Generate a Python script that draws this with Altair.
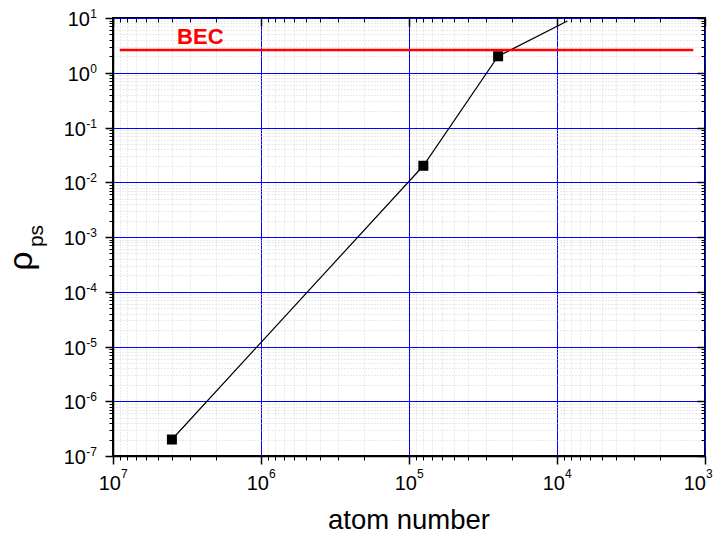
import altair as alt
import pandas as pd

FONT = "Liberation Sans"

# ---- data ----
atoms = [4.0e6, 8.0e4, 2.5e4, 8.5e3]
rho = [2.0e-7, 2.0e-2, 2.0, 8.8]
marker_atoms = [4.0e6, 8.0e4, 2.5e4]
marker_rho = [2.0e-7, 2.0e-2, 2.0]
bec_level = [2.6]
bec_start = [9.0e6]
bec_end = [1.2e3]
bec_label = ["BEC"]
bec_label_x = [2.57e6]
bec_label_y = [3.35]
x_exps = ["7", "6", "5", "4", "3"]
y_exps = ["1", "0", "-1", "-2", "-3", "-4", "-5", "-6", "-7"]
x_title = "atom number"
y_title_main = "ρ"
y_title_sub = "ps"

W, H = 592, 438

x_major = [10.0 ** e for e in range(3, 8)]
x_minor = [k * 10.0 ** e for e in range(3, 7) for k in range(2, 10)]
y_major = [10.0 ** e for e in range(-7, 2)]
y_minor = [k * 10.0 ** e for e in range(-7, 1) for k in range(2, 10)]

xscale = alt.Scale(type="log", domain=[1e3, 1e7], reverse=True, nice=False)
yscale = alt.Scale(type="log", domain=[1e-7, 10], nice=False)

BLUE = "#0000ff"
GRAY = "#d4d4d4"

def ax(orient, values, size, grid=None, offset=0, domain=False):
    kw = dict(orient=orient, values=values, labels=False, tickSize=size,
              tickColor="black", tickWidth=1.5 if size > 5 else 1,
              domain=domain, title=None, offset=offset)
    if domain:
        kw.update(domainColor="black", domainWidth=1.5)
    if grid == "major":
        kw.update(grid=True, gridColor=BLUE, gridWidth=1, gridOpacity=1)
    elif grid == "minor":
        kw.update(grid=True, gridColor=GRAY, gridWidth=1, gridDash=[1, 2], gridOpacity=1)
    else:
        kw.update(grid=False)
    return alt.Axis(**kw)

df_line = pd.DataFrame({"atoms": atoms, "rho": rho})
df_pts = pd.DataFrame({"atoms": marker_atoms, "rho": marker_rho})
df_bec = pd.DataFrame({"x1": bec_start, "x2": bec_end, "y": bec_level})
df_bect = pd.DataFrame({"x": bec_label_x, "y": bec_label_y, "t": bec_label})
x_lab = pd.DataFrame({"v": [10.0 ** int(e) for e in x_exps], "e": x_exps})
y_lab = pd.DataFrame({"v": [10.0 ** int(e) for e in y_exps], "e": y_exps})

line = alt.Chart(df_line).mark_line(color="black", strokeWidth=1.2).encode(
    x=alt.X("atoms:Q", scale=xscale, axis=ax("bottom", x_minor, 4, grid="minor")),
    y=alt.Y("rho:Q", scale=yscale, axis=ax("left", y_minor, 4, grid="minor")),
)

points = alt.Chart(df_pts).mark_square(size=100, color="black", opacity=1).encode(
    x=alt.X("atoms:Q", scale=xscale, axis=ax("bottom", x_major, 8, grid="major", domain=True)),
    y=alt.Y("rho:Q", scale=yscale, axis=ax("left", y_major, 8, grid="major", domain=True)),
)

bec = alt.Chart(df_bec).mark_rule(color="#ff0000", strokeWidth=2.5).encode(
    x=alt.X("x1:Q", scale=xscale, axis=ax("top", x_major, 8, offset=-8)),
    x2="x2:Q",
    y=alt.Y("y:Q", scale=yscale, axis=ax("right", y_major, 8, offset=-8)),
)

bec_text = alt.Chart(df_bect).mark_text(
    font=FONT, fontSize=22, fontWeight="bold", color="#ff0000",
    align="center", baseline="alphabetic",
).encode(
    x=alt.X("x:Q", scale=xscale, axis=ax("top", x_minor, 4, offset=-4)),
    y=alt.Y("y:Q", scale=yscale, axis=ax("right", y_minor, 4, offset=-4)),
    text="t:N",
)

def x_labels(flt, shift):
    base = alt.Chart(x_lab).transform_filter(flt)
    ten = base.mark_text(
        font=FONT, fontSize=20, align="right", baseline="alphabetic", dx=shift, color="black"
    ).encode(
        x=alt.X("v:Q", scale=xscale, axis=None),
        y=alt.value(H + 34),
        text=alt.value("10"),
    )
    ex = base.mark_text(
        font=FONT, fontSize=12, align="left", baseline="alphabetic", dx=shift, color="black"
    ).encode(
        x=alt.X("v:Q", scale=xscale, axis=None),
        y=alt.value(H + 22),
        text="e:N",
    )
    return [ten, ex]

xl_main = x_labels("datum.e != '3'", 8)
xl_edge = x_labels("datum.e == '3'", 1)

ylexp = alt.Chart(y_lab).mark_text(
    font=FONT, fontSize=12, align="right", baseline="alphabetic", dy=0, color="black"
).encode(
    y=alt.Y("v:Q", scale=yscale, axis=None),
    x=alt.value(-16),
    text="e:N",
)
yl10 = alt.Chart(y_lab).transform_calculate(
    xp="-16 - (indexof(datum.e, '-') >= 0 ? 11 : 7)"
).mark_text(
    font=FONT, fontSize=20, align="right", baseline="alphabetic", dy=8, color="black"
).encode(
    y=alt.Y("v:Q", scale=yscale, axis=None),
    x=alt.X("xp:Q", scale=None, axis=None),
    text=alt.value("10"),
)

rho_t = alt.Chart(pd.DataFrame({"t": [y_title_main]})).mark_text(
    font=FONT, fontSize=34, angle=270, align="center", baseline="alphabetic", color="black"
).encode(x=alt.value(-81), y=alt.value(243), text="t:N")
ps_t = alt.Chart(pd.DataFrame({"t": [y_title_sub]})).mark_text(
    font=FONT, fontSize=21, angle=270, align="center", baseline="alphabetic", color="black"
).encode(x=alt.value(-70), y=alt.value(218), text="t:N")
xt = alt.Chart(pd.DataFrame({"t": [x_title]})).mark_text(
    font=FONT, fontSize=27.5, align="center", baseline="alphabetic", color="black"
).encode(x=alt.value(W / 2), y=alt.value(H + 73), text="t:N")

chart = alt.layer(
    line, points, bec, bec_text, *xl_main, *xl_edge, yl10, ylexp, rho_t, ps_t, xt
).resolve_axis(x="independent", y="independent").properties(
    width=W, height=H,
    padding={"left": 105, "top": 10, "right": 9, "bottom": 76},
    autosize=alt.AutoSizeParams(type="none"),
    background="white",
).configure_view(stroke="black", strokeWidth=2)

chart.save("out.html", embed_options={"renderer": "svg", "actions": False})
